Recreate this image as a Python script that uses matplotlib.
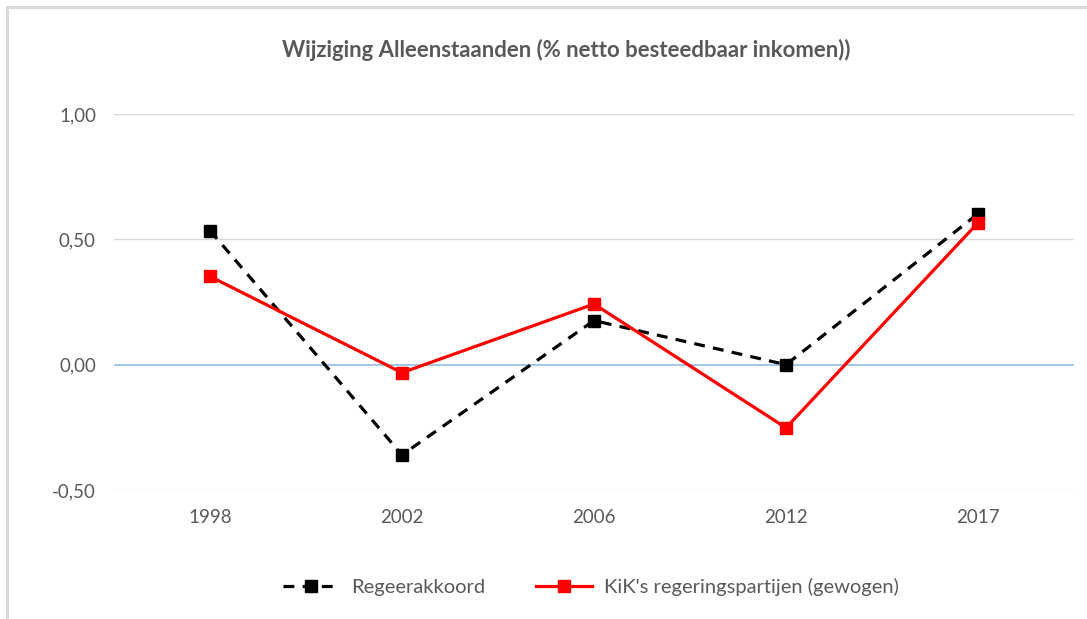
import matplotlib
matplotlib.use("Agg")
import matplotlib.pyplot as plt
from matplotlib.lines import Line2D
from matplotlib.ticker import FixedLocator, FuncFormatter

years = ["1998", "2002", "2006", "2012", "2017"]
regeerakkoord = [0.535, -0.36, 0.176, 0.0, 0.602]
kik = [0.352, -0.032, 0.242, -0.252, 0.566]
yticks = [-0.5, 0.0, 0.5, 1.0]
title = "Wijziging Alleenstaanden (% netto besteedbaar inkomen))"

plt.rcParams['font.family'] = ['Lato', 'DejaVu Sans']
grey = "#595959"

fig = plt.figure(figsize=(10.87, 6.19), dpi=100)
ax = fig.add_axes([114/1087, 1-490/619, (1074-114)/1087, (490-114)/619])

x = list(range(len(years)))
ax.set_xlim(-0.5, len(years) - 0.5)
ax.set_ylim(-0.5, 1.0)

for v in yticks:
    if v == 0:
        ax.axhline(v, color="#9DC3E6", lw=1.3, zorder=1)
    else:
        ax.axhline(v, color="#D9D9D9", lw=1.0, zorder=1)

ax.plot(x, regeerakkoord, color="black", lw=2.3, dashes=(3.4, 2.6),
        dash_capstyle="butt", marker="s", markersize=8.5, label="Regeerakkoord", zorder=3)
ax.plot(x, kik, color="#FF0000", lw=2.3, marker="s", markersize=8.5,
        label="KiK's regeringspartijen (gewogen)", zorder=4)

ax.set_xticks(x)
ax.set_xticklabels(years)
ax.yaxis.set_major_locator(FixedLocator(yticks))
ax.yaxis.set_major_formatter(FuncFormatter(lambda v, p: f"{v:.2f}".replace(".", ",")))
ax.tick_params(axis="both", length=0, colors=grey, labelsize=13.5)
ax.tick_params(axis="x", pad=14)
ax.tick_params(axis="y", pad=13)
for s in ax.spines.values():
    s.set_visible(False)

fig.text(566/1087, 1-50/619, title, ha="center", va="center", fontsize=15.9,
         fontweight="bold", color=grey)

leg = fig.legend(loc="center", bbox_to_anchor=(591/1087, 1-587/619), ncol=2,
                 frameon=False, fontsize=14.5, handlelength=2.8, columnspacing=2.5,
                 handletextpad=0.6)
for t in leg.get_texts():
    t.set_color(grey)

fig.add_artist(Line2D([7/1087, 7/1087], [0, 1-7/619], transform=fig.transFigure,
                      color="#D9D9D9", lw=2.2))
fig.add_artist(Line2D([7/1087, 1], [1-7/619, 1-7/619], transform=fig.transFigure,
                      color="#D9D9D9", lw=2.2))

fig.savefig("out.png", dpi=100)
